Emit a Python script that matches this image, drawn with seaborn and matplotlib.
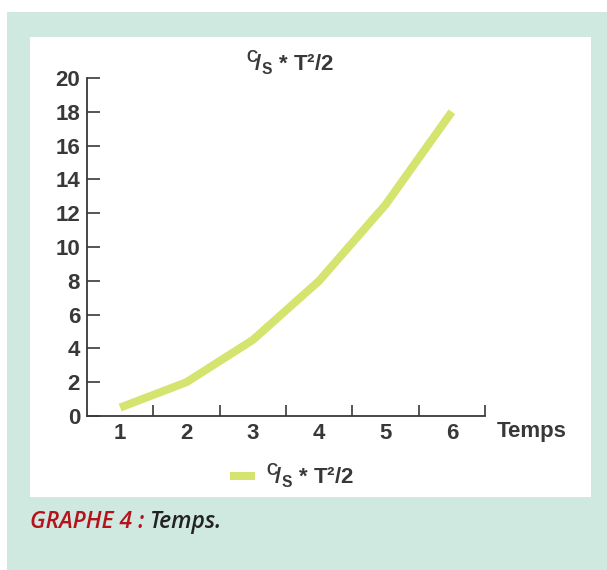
import numpy as np
import pandas as pd
import matplotlib.pyplot as plt
import matplotlib.patches as mpatches
import seaborn as sns

# data
temps = [1, 2, 3, 4, 5, 6]
valeurs = [0.5, 2, 4.5, 8, 12.5, 18]
y_ticks = [0, 2, 4, 6, 8, 10, 12, 14, 16, 18, 20]
serie = r"$^{\mathrm{C}}\!/_{\mathrm{S}}$ * T²/2"

MINT = "#cfe9e1"
LINE = "#d5e36f"
DARK = "#383838"
FS = 16

sns.set_theme(style="white")
plt.rcParams["font.family"] = ["Liberation Sans", "DejaVu Sans"]
plt.rcParams["mathtext.fontset"] = "custom"
plt.rcParams["mathtext.rm"] = "Liberation Sans:bold"
plt.rcParams["mathtext.it"] = "Liberation Sans:bold"
plt.rcParams["mathtext.bf"] = "Liberation Sans:bold"

df = pd.DataFrame({"Temps": temps, "val": valeurs})

fig = plt.figure(figsize=(6.07, 5.70), dpi=100)
fig.patch.set_facecolor("white")
W, H = 607, 570
fig.patches.append(mpatches.Rectangle((7 / W, 0), 1 - 7 / W, 1 - 11.5 / H,
                                      transform=fig.transFigure, facecolor=MINT,
                                      edgecolor="none", zorder=-2))
fig.patches.append(mpatches.Rectangle((30 / W, 1 - 497 / H), (591 - 30) / W, (497 - 37) / H,
                                      transform=fig.transFigure, facecolor="white",
                                      edgecolor="none", zorder=-1))

ax = fig.add_axes([87 / W, 1 - 416 / H, (485 - 87) / W, (416 - 78) / H])
ax.set_facecolor("none")
sns.lineplot(data=df, x="Temps", y="val", ax=ax, color=LINE, linewidth=5.8,
             solid_capstyle="butt", label=serie, legend=False)

ax.set_xlim(0.5, 6.5)
ax.set_ylim(0, 20)
ax.set_yticks(y_ticks)
ax.set_yticklabels([str(v) for v in y_ticks], fontsize=FS, fontweight="bold", color=DARK)
ax.set_xticks(temps)
ax.set_xticklabels([str(v) for v in temps], fontsize=FS, fontweight="bold", color=DARK)
ax.set_xticks([t + 0.5 for t in temps], minor=True)
ax.tick_params(axis="x", which="major", bottom=False, length=0, pad=5)
ax.tick_params(axis="x", which="minor", bottom=True, direction="in", length=8,
               width=1.2, color=DARK)
ax.tick_params(axis="y", which="major", left=True, direction="in", length=9,
               width=1.2, color=DARK, pad=5)
for s in ["top", "right"]:
    ax.spines[s].set_visible(False)
for s in ["left", "bottom"]:
    ax.spines[s].set_color(DARK)
    ax.spines[s].set_linewidth(1.3)
ax.set_xlabel("")
ax.set_ylabel("")

fig.text(567 / W, 1 - 432 / H, "Temps", fontsize=FS, fontweight="bold", color=DARK,
         ha="right", va="center")
fig.text(290 / W, 1 - 63 / H, serie, fontsize=FS, fontweight="bold", color=DARK,
         ha="center", va="center")

handles, labels = ax.get_legend_handles_labels()
fig.legend(handles, labels, loc="center", bbox_to_anchor=(292 / W, 1 - 476 / H),
           frameon=False, prop={"size": FS, "weight": "bold"}, handlelength=1.1,
           handletextpad=0.5, labelcolor=DARK)

# caption
cap_font = dict(fontsize=16.5, style="italic", fontweight="semibold",
                family=["Open Sans", "DejaVu Sans"])
t1 = fig.text(30 / W, 1 - 528 / H, "GRAPHE 4 :", color="#b5121b", va="baseline", **cap_font)
fig.canvas.draw()
bb = t1.get_window_extent()
fig.text((bb.x1 + 5) / W, 1 - 528 / H, "Temps.", color="#222222", va="baseline", **cap_font)

fig.savefig("out.png", dpi=100)
